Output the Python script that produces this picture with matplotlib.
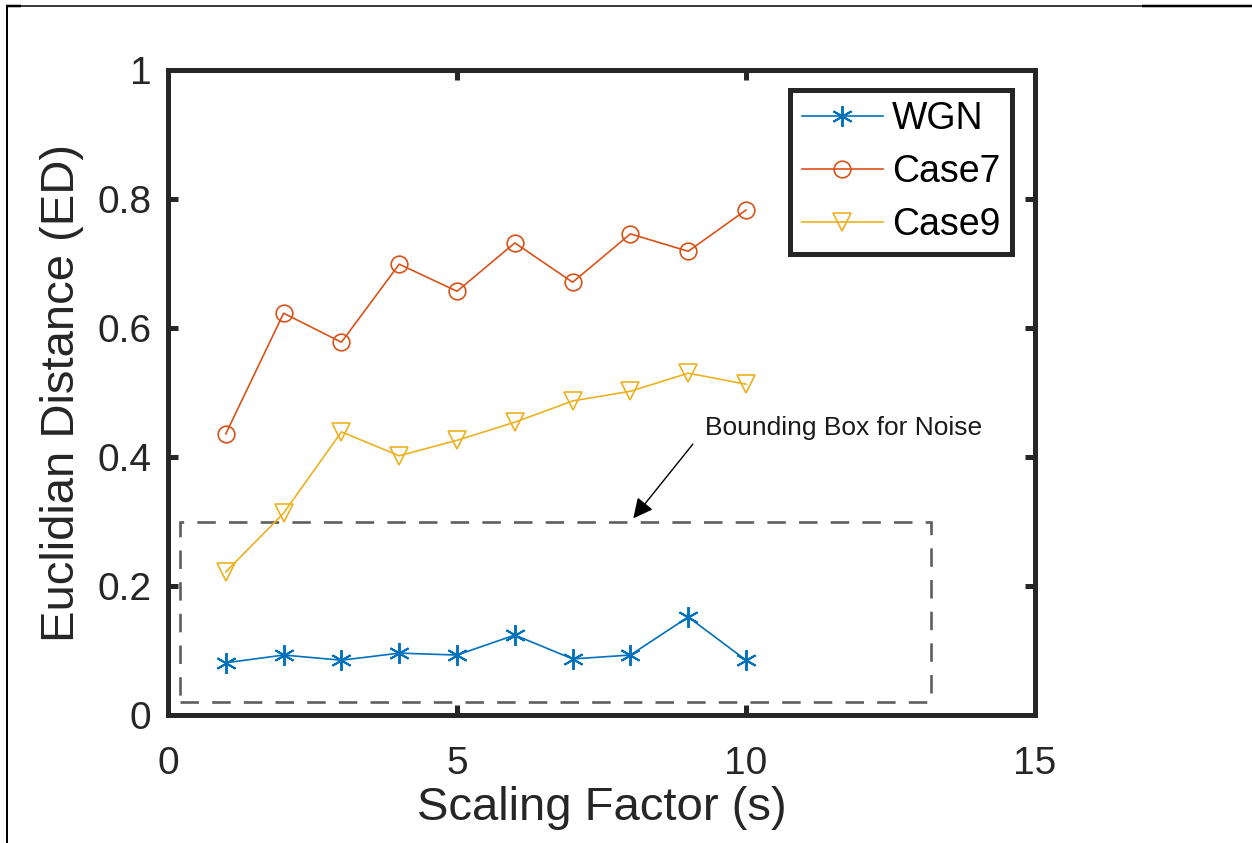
import matplotlib
matplotlib.use("Agg")
import matplotlib.pyplot as plt
from matplotlib.lines import Line2D
from matplotlib.patches import Rectangle

plt.rcParams['font.family'] = ['Liberation Sans', 'DejaVu Sans']

# ---- data ----
scaling = [1, 2, 3, 4, 5, 6, 7, 8, 9, 10]
wgn = [0.081, 0.093, 0.085, 0.096, 0.093, 0.124, 0.087, 0.093, 0.152, 0.085]
case7 = [0.436, 0.623, 0.578, 0.699, 0.657, 0.732, 0.671, 0.746, 0.719, 0.783]
case9 = [0.222, 0.313, 0.439, 0.402, 0.426, 0.454, 0.487, 0.502, 0.530, 0.513]
series_names = ['WGN', 'Case7', 'Case9']
xticks = [0, 5, 10, 15]
yticks = [0, 0.2, 0.4, 0.6, 0.8, 1.0]
ytick_labels = ['0', '0.2', '0.4', '0.6', '0.8', '1']
box_x0, box_y0, box_x1, box_y1 = 0.2, 0.02, 13.2, 0.30
annot_text = 'Bounding Box for Noise'
annot_tip = (8.05, 0.305)
annot_tail = (9.08, 0.42)
annot_pos = (9.29, 0.445)

AX_COL = '#262626'
colors = ['#0072BD', '#D95319', '#EDB120']

fig = plt.figure(figsize=(12.52, 8.43), dpi=100)
ax = fig.add_axes([0.1342, 0.1518, 0.6925, 0.7651])

lw = 1.2
ms = 12
ax.plot(scaling, wgn, color=colors[0], marker=(6, 2, 0), markersize=ms + 3,
        markeredgewidth=lw + 0.2, lw=lw, label=series_names[0])
ax.plot(scaling, case7, color=colors[1], marker='o', markersize=ms,
        markerfacecolor='none', markeredgewidth=lw, lw=lw, label=series_names[1])
ax.plot(scaling, case9, color=colors[2], marker='v', markersize=ms + 1,
        markerfacecolor='none', markeredgewidth=lw, lw=lw, label=series_names[2])

# bounding box
dlw = 1.9
rect = Rectangle((box_x0, box_y0), box_x1 - box_x0, box_y1 - box_y0,
                 fill=False, edgecolor='#5f5f5f', lw=dlw,
                 linestyle=(0, (7.0, 5.0)))
ax.add_patch(rect)

ax.annotate('', xy=annot_tip, xytext=annot_tail,
            arrowprops=dict(arrowstyle='-|>', color='black', lw=1.0,
                            mutation_scale=30, shrinkA=0, shrinkB=0))
ax.text(annot_pos[0], annot_pos[1], annot_text, fontsize=19, va='center',
        ha='left', color='#1a1a1a')

ax.set_xlim(0, 15)
ax.set_ylim(0, 1)
ax.set_xticks(xticks)
ax.set_yticks(yticks)
ax.set_yticklabels(ytick_labels)

for s in ax.spines.values():
    s.set_linewidth(3.6)
    s.set_color(AX_COL)
ax.tick_params(direction='in', length=7, width=3.6, colors=AX_COL,
               top=True, right=True, labelsize=28)
ax.tick_params(axis='x', pad=22)
ax.tick_params(axis='y', pad=12)

ax.set_xlabel('Scaling Factor (s)', fontsize=34, color=AX_COL)
ax.set_ylabel('Euclidian Distance (ED)', fontsize=34, color=AX_COL)
ax.xaxis.set_label_coords(0.5, -0.11)
ax.yaxis.set_label_coords(-0.097, 0.5)

leg = ax.legend(loc='upper right', bbox_to_anchor=(0.973, 0.969),
                fontsize=27, fancybox=False, framealpha=1,
                edgecolor=AX_COL, handlelength=2.16, handletextpad=0.25,
                labelspacing=0.45, borderpad=0.3, borderaxespad=0)
leg.get_frame().set_linewidth(3.6)

# outer frame lines of the figure
W, H = 1252, 843
def fl(x0, y0, x1, y1, lwpx):
    fig.add_artist(Line2D([x0 / W, x1 / W], [1 - y0 / H, 1 - y1 / H],
                          transform=fig.transFigure, color='black',
                          lw=lwpx * 0.72, solid_capstyle='butt'))
fl(6, 5.5, 1142, 5.5, 1.5)
fl(1142, 6, 1252, 6, 2.5)
fl(7, 5, 7, 843, 2)
fl(6, 6, 21, 6, 2.5)

fig.savefig('out.png', dpi=100)
